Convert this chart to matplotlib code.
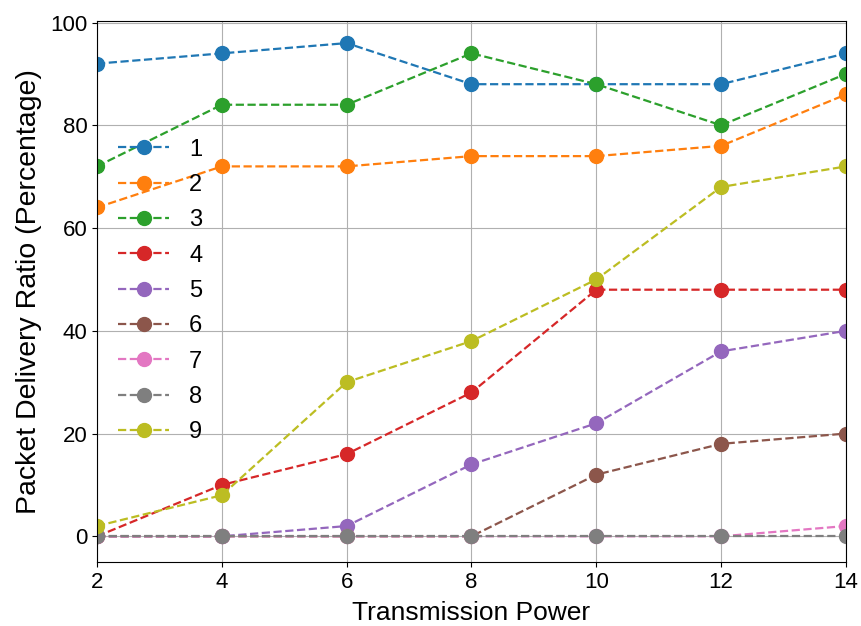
import matplotlib
matplotlib.use("Agg")
import matplotlib.pyplot as plt

plt.rcParams['font.family'] = ['Liberation Sans', 'DejaVu Sans']

x = [2, 4, 6, 8, 10, 12, 14]
labels = ['1', '2', '3', '4', '5', '6', '7', '8', '9']
s1 = [92, 94, 96, 88, 88, 88, 94]
s2 = [64, 72, 72, 74, 74, 76, 86]
s3 = [72, 84, 84, 94, 88, 80, 90]
s4 = [0, 10, 16, 28, 48, 48, 48]
s5 = [0, 0, 2, 14, 22, 36, 40]
s6 = [0, 0, 0, 0, 12, 18, 20]
s7 = [0, 0, 0, 0, 0, 0, 2]
s8 = [0, 0, 0, 0, 0, 0, 0]
s9 = [2, 8, 30, 38, 50, 68, 72]
series = [s1, s2, s3, s4, s5, s6, s7, s8, s9]

fig = plt.figure(figsize=(8.62, 6.26), dpi=100)
ax = fig.add_axes([97/862, 1-562/626, (846-97)/862, (562-21)/626])
for lab, s in zip(labels, series):
    ax.plot(x, s, linestyle='--', marker='o', markersize=10, linewidth=1.6, label=lab)

ax.set_xlim(2, 14)
ax.set_ylim(-5, 100.3)
ax.set_xticks([2, 4, 6, 8, 10, 12, 14])
ax.set_yticks([0, 20, 40, 60, 80, 100])
ax.grid(True, color='#b0b0b0', linewidth=0.8)
ax.tick_params(labelsize=16)
ax.set_xlabel('Transmission Power', fontsize=19, labelpad=6)
ax.set_ylabel('Packet Delivery Ratio (Percentage)', fontsize=20.5, labelpad=6)
ax.legend(loc='upper left', bbox_to_anchor=(0.0, 0.822), frameon=False, fontsize=17,
          handlelength=2.15, labelspacing=0.565, handletextpad=0.85)
fig.savefig('out.png', dpi=100)
